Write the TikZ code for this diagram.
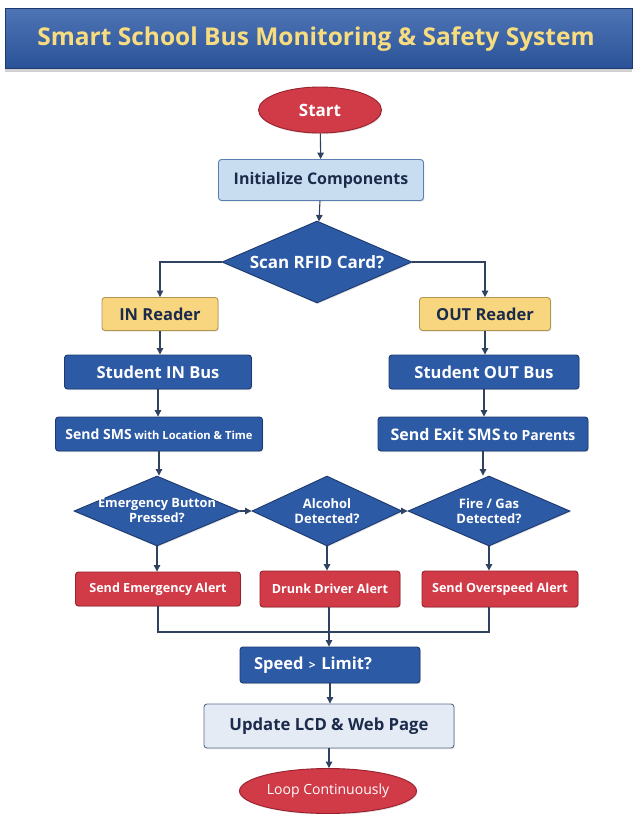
\documentclass[tikz,border=0pt]{standalone}
\usepackage{fontspec}
\setmainfont{Open Sans}
\usetikzlibrary{shapes.geometric,arrows.meta,positioning,shadows}
\definecolor{BusNavy}{HTML}{2D5AA5}
\definecolor{BusNavyDark}{HTML}{1D3A70}
\definecolor{BusRed}{HTML}{D13A47}
\definecolor{BusRedDark}{HTML}{97212C}
\definecolor{BusSky}{HTML}{C9DDF1}
\definecolor{BusSkyDark}{HTML}{5A80B2}
\definecolor{BusYellow}{HTML}{F8D67F}
\definecolor{BusYellowDark}{HTML}{B3964D}
\definecolor{BusMist}{HTML}{E5EBF4}
\definecolor{BusMistDark}{HTML}{5B6D8C}
\definecolor{BusInk}{HTML}{1B2B4B}
\definecolor{BusLine}{HTML}{2F4260}
\definecolor{BusTitle}{HTML}{F7DC80}
\definecolor{BusBanner}{HTML}{2F5CA8}

\begin{document}
\begin{tikzpicture}[x=1pt, y=-1pt,
    font=\bfseries,
    flow/.style={draw, rounded corners=3pt, line width=0.9pt, align=center, inner sep=1pt,
      drop shadow={shadow xshift=0.8pt, shadow yshift=-1.2pt, opacity=0.22}},
    navybox/.style={flow, fill=BusNavy, draw=BusNavyDark, text=white},
    redbox/.style={flow, fill=BusRed, draw=BusRedDark, text=white, font=\fontsize{12.6}{15}\selectfont\bfseries},
    readerbox/.style={flow, fill=BusYellow, draw=BusYellowDark, text=BusInk, font=\fontsize{16.5}{19}\selectfont\bfseries},
    decision/.style={diamond, draw=BusNavyDark, fill=BusNavy, line width=0.9pt, inner sep=0pt,
      drop shadow={shadow xshift=0.8pt, shadow yshift=-1.2pt, opacity=0.22}},
    asks/.style={text=white, align=center, inner sep=0pt},
    terminal/.style={ellipse, draw=BusRedDark, fill=BusRed, text=white, line width=0.9pt, inner sep=0pt,
      drop shadow={shadow xshift=0.8pt, shadow yshift=-1.2pt, opacity=0.22}},
    link/.style={line width=1.1pt, draw=BusLine},
    arrow/.style={link, -{Triangle[length=6.5pt, width=6.5pt]}}
]

  % page and banner
  \useasboundingbox[fill=white] (0,0) rectangle (632,814);
  \fill[black, opacity=0.18] (5,68) rectangle (632,72);
  \shade[top color=BusBanner!85!white, bottom color=BusBanner!90!black, draw=BusNavyDark, line width=0.8pt] (5,8) rectangle (632,68);
  \node[font=\fontsize{24.5}{28}\selectfont\bfseries, text=BusTitle] (title) at (316,39) {Smart School Bus Monitoring \& Safety System};

  % top of the chart
  \node[terminal, minimum width=123pt, minimum height=46pt, font=\fontsize{17}{19}\selectfont\bfseries] (start) at (320,110) {Start};
  \node[flow, fill=BusSky, draw=BusSkyDark, text=BusInk, minimum width=205pt, minimum height=41pt, font=\fontsize{16}{18}\selectfont\bfseries] (init) at (321,180) {Initialize Components};
  \node[decision, minimum width=190pt, minimum height=82pt,
    label={[asks, font=\fontsize{17}{19}\selectfont\bfseries]center:Scan RFID Card?}] (scan) at (317,262) {};

  % readers
  \node[readerbox, minimum width=116pt, minimum height=33pt] (inr) at (160,314) {IN Reader};
  \node[readerbox, minimum width=131pt, minimum height=33pt] (outr) at (485,314) {OUT Reader};

  \node[navybox, minimum width=187pt, minimum height=34pt, font=\fontsize{16.5}{19}\selectfont\bfseries] (sin) at (158,372) {Student IN Bus};
  \node[navybox, minimum width=190pt, minimum height=34pt, font=\fontsize{16.5}{19}\selectfont\bfseries] (sout) at (484,372) {Student OUT Bus};

  \node[navybox, minimum width=207pt, minimum height=34pt] (smsin) at (159,434)
    {{\fontsize{14}{16}\selectfont Send SMS} {\fontsize{11.2}{13}\selectfont with Location \& Time}};
  \node[navybox, minimum width=210pt, minimum height=34pt] (smsout) at (483,434)
    {{\fontsize{16}{18}\selectfont Send Exit SMS} {\fontsize{14}{16}\selectfont to Parents}};

  % sensor checks
  \node[decision, minimum width=166pt, minimum height=70pt,
    label={[asks, font=\fontsize{12.8}{15}\selectfont\bfseries]center:Emergency Button\\Pressed?}] (emg) at (157,511) {};
  \node[decision, minimum width=150pt, minimum height=70pt,
    label={[asks, font=\fontsize{13}{15}\selectfont\bfseries]center:Alcohol\\Detected?}] (alc) at (327,511) {};
  \node[decision, minimum width=162pt, minimum height=70pt,
    label={[asks, font=\fontsize{13}{15}\selectfont\bfseries]center:Fire / Gas\\Detected?}] (fire) at (489,511) {};

  \node[redbox, minimum width=165pt, minimum height=34pt] (emgalert) at (158,589) {Send Emergency Alert};
  \node[redbox, minimum width=140pt, minimum height=36pt] (drunk) at (330,589) {Drunk Driver Alert};
  \node[redbox, minimum width=156pt, minimum height=36pt] (over) at (500,589) {Send Overspeed Alert};

  % bottom of the chart
  \node[navybox, minimum width=180pt, minimum height=36pt, text width=152pt, align=left, font=\fontsize{16.5}{19}\selectfont\bfseries] (speed) at (330,665)
    {Speed {\fontsize{12}{14}\selectfont >} Limit?};
  \node[flow, fill=BusMist, draw=BusMistDark, text=BusInk, minimum width=250pt, minimum height=44pt, font=\fontsize{16.7}{19}\selectfont\bfseries] (lcd) at (329,726) {Update LCD \& Web Page};
  \node[terminal, minimum width=177pt, minimum height=45pt, font=\fontsize{14}{16}\selectfont\mdseries] (loop) at (328,791) {Loop Continuously};

  \coordinate (join) at (329,632);

  % connectors
  \draw[arrow] (start) -- (init);
  \draw[arrow] (init) -- (scan);
  \draw[arrow] (scan.west) -| (inr.north);
  \draw[arrow] (scan.east) -| (outr.north);
  \draw[arrow] (inr) -- (inr |- sin.north);
  \draw[arrow] (outr) -- (outr |- sout.north);
  \draw[arrow] (sin) -- (sin |- smsin.north);
  \draw[arrow] (sout) -- (sout |- smsout.north);
  \draw[arrow] (smsin) -- (smsin |- emg.north);
  \draw[arrow] (smsout) -- (smsout |- fire.north);
  \draw[arrow] (emg.east) -- (alc.west);
  \draw[arrow] (alc.east) -- (fire.west);
  \draw[arrow] (emg.south) -- (emg.south |- emgalert.north);
  \draw[arrow] (alc.south) -- (alc.south |- drunk.north);
  \draw[arrow] (fire.south) -- (fire.south |- over.north);
  \draw[link] (emgalert.south) |- (join);
  \draw[link] (over.south -| fire.south) |- (join);
  \draw[link] (drunk.south -| join) -- (join);
  \draw[arrow] (join) -- (join |- speed.north);
  \draw[arrow] (speed) -- (speed |- lcd.north);
  \draw[arrow] (lcd) -- (lcd |- loop.north);

\end{tikzpicture}
\end{document}
